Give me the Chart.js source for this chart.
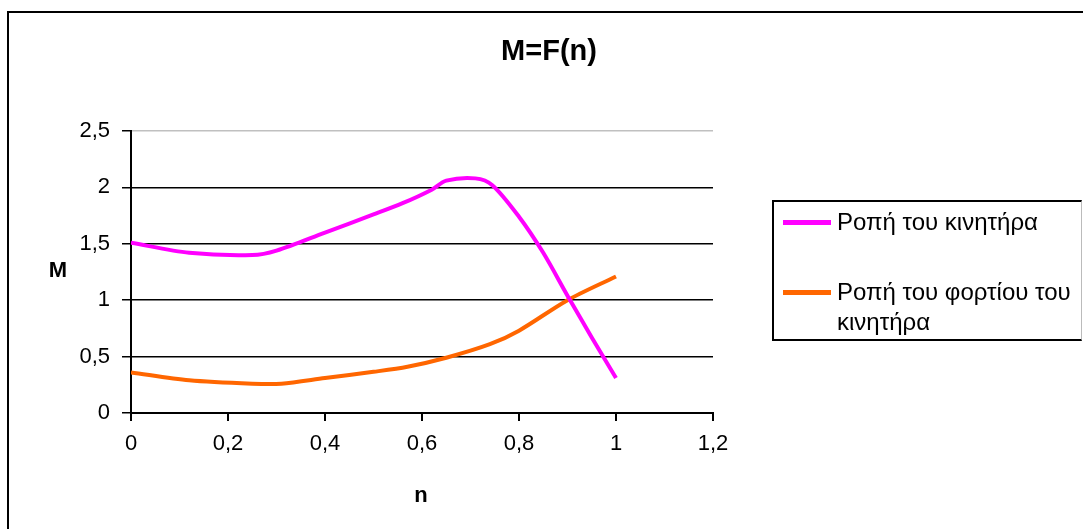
<!DOCTYPE html>
<html>
<head>
<meta charset="utf-8">
<script src="https://cdn.jsdelivr.net/npm/chart.js@4/dist/chart.umd.min.js"></script>
<style>
  body { margin: 0; background: #fff; font-family: "Liberation Sans", Arial, sans-serif; }
  #wrap { position: relative; width: 1083px; height: 529px; overflow: hidden; }
  #frame { position: absolute; left: 7px; top: 11px; width: 1100px; height: 560px; border: 2px solid #000; }
  canvas { position: absolute; left: 0; top: 0; }
  .lbl { position: absolute; font-weight: bold; color: #000; white-space: nowrap; transform: translate(-50%, -50%); }
  #legend { position: absolute; left: 772px; top: 200px; width: 310px; height: 141px; border: 2px solid #000; border-right: 1px solid #bbb; box-sizing: border-box; }
  .item { position: absolute; left: 63px; font-size: 24px; line-height: 30px; color: #000; white-space: nowrap; }
  .swatch { position: absolute; left: 9px; width: 48px; height: 5px; }
</style>
</head>
<body>
<div id="wrap">
  <div id="frame"></div>
  <canvas id="chart" width="1083" height="529"></canvas>
  <div class="lbl" style="left:549px; top:50px; font-size:29px;">M=F(n)</div>
  <div class="lbl" style="left:58px; top:270px; font-size:22px;">M</div>
  <div class="lbl" style="left:421px; top:495px; font-size:22px;">n</div>
  <div id="legend">
    <div class="swatch" style="top:18px; background:#ff00ff;"></div>
    <div class="item" style="top:5px;">Ροπή του κινητήρα</div>
    <div class="swatch" style="top:88px; background:#ff6600;"></div>
    <div class="item" style="top:75px;">Ροπή του φορτίου του<br>κινητήρα</div>
  </div>
</div>
<script>
// Ροπή του κινητήρα
const nMotor = [0, 0.12, 0.25, 0.3, 0.4, 0.5, 0.56, 0.62, 0.65, 0.71, 0.745, 0.8, 0.85, 0.9, 0.95, 1.0];
const mMotor = [1.51, 1.42, 1.40, 1.44, 1.60, 1.76, 1.86, 1.98, 2.06, 2.08, 2.02, 1.74, 1.42, 1.04, 0.67, 0.31];

// Ροπή του φορτίου του κινητήρα
const nLoad = [0, 0.12, 0.25, 0.31, 0.4, 0.5, 0.57, 0.65, 0.74, 0.8, 0.9, 1.0];
const mLoad = [0.36, 0.29, 0.26, 0.26, 0.31, 0.365, 0.41, 0.49, 0.61, 0.73, 1.0, 1.21];

const seriesNames = ['Ροπή του κινητήρα', 'Ροπή του φορτίου του κινητήρα'];
const seriesColors = ['#ff00ff', '#ff6600'];

const toPoints = (xs, ys) => xs.map((x, i) => ({ x: x, y: ys[i] }));
const fmt = v => String(Math.round(v * 10) / 10).replace('.', ',');

new Chart(document.getElementById('chart'), {
  type: 'scatter',
  data: {
    datasets: [
      {
        label: seriesNames[0],
        data: toPoints(nMotor, mMotor),
        showLine: true,
        borderColor: seriesColors[0],
        borderWidth: 4,
        pointRadius: 0,
        tension: 0.3
      },
      {
        label: seriesNames[1],
        data: toPoints(nLoad, mLoad),
        showLine: true,
        borderColor: seriesColors[1],
        borderWidth: 4,
        pointRadius: 0,
        tension: 0.3
      }
    ]
  },
  options: {
    responsive: false,
    animation: false,
    layout: { padding: { left: 0, top: 131, right: 370, bottom: 0 } },
    plugins: {
      legend: { display: false },
      title: { display: false },
      tooltip: { enabled: false }
    },
    scales: {
      x: {
        type: 'linear',
        min: 0,
        max: 1.2,
        ticks: {
          stepSize: 0.2,
          padding: 10,
          color: '#000',
          font: { family: 'Liberation Sans', size: 22 },
          callback: v => fmt(v)
        },
        grid: { drawOnChartArea: false, drawTicks: true, tickLength: 8, color: '#000', lineWidth: 2 },
        border: { display: true, color: '#000', width: 2 },
        afterFit: scale => { scale.height = 116; }
      },
      y: {
        min: 0,
        max: 2.5,
        ticks: {
          stepSize: 0.5,
          padding: 12,
          color: '#000',
          font: { family: 'Liberation Sans', size: 22 },
          callback: v => fmt(v)
        },
        grid: {
          drawTicks: true,
          tickLength: 9,
          lineWidth: 1.5,
          color: ctx => (ctx.tick && ctx.tick.value === 2.5 ? '#c0c0c0' : '#000'),
          tickColor: '#000'
        },
        border: { display: true, color: '#000', width: 2 },
        afterFit: scale => { scale.width = 131; }
      }
    }
  }
});
</script>
</body>
</html>
